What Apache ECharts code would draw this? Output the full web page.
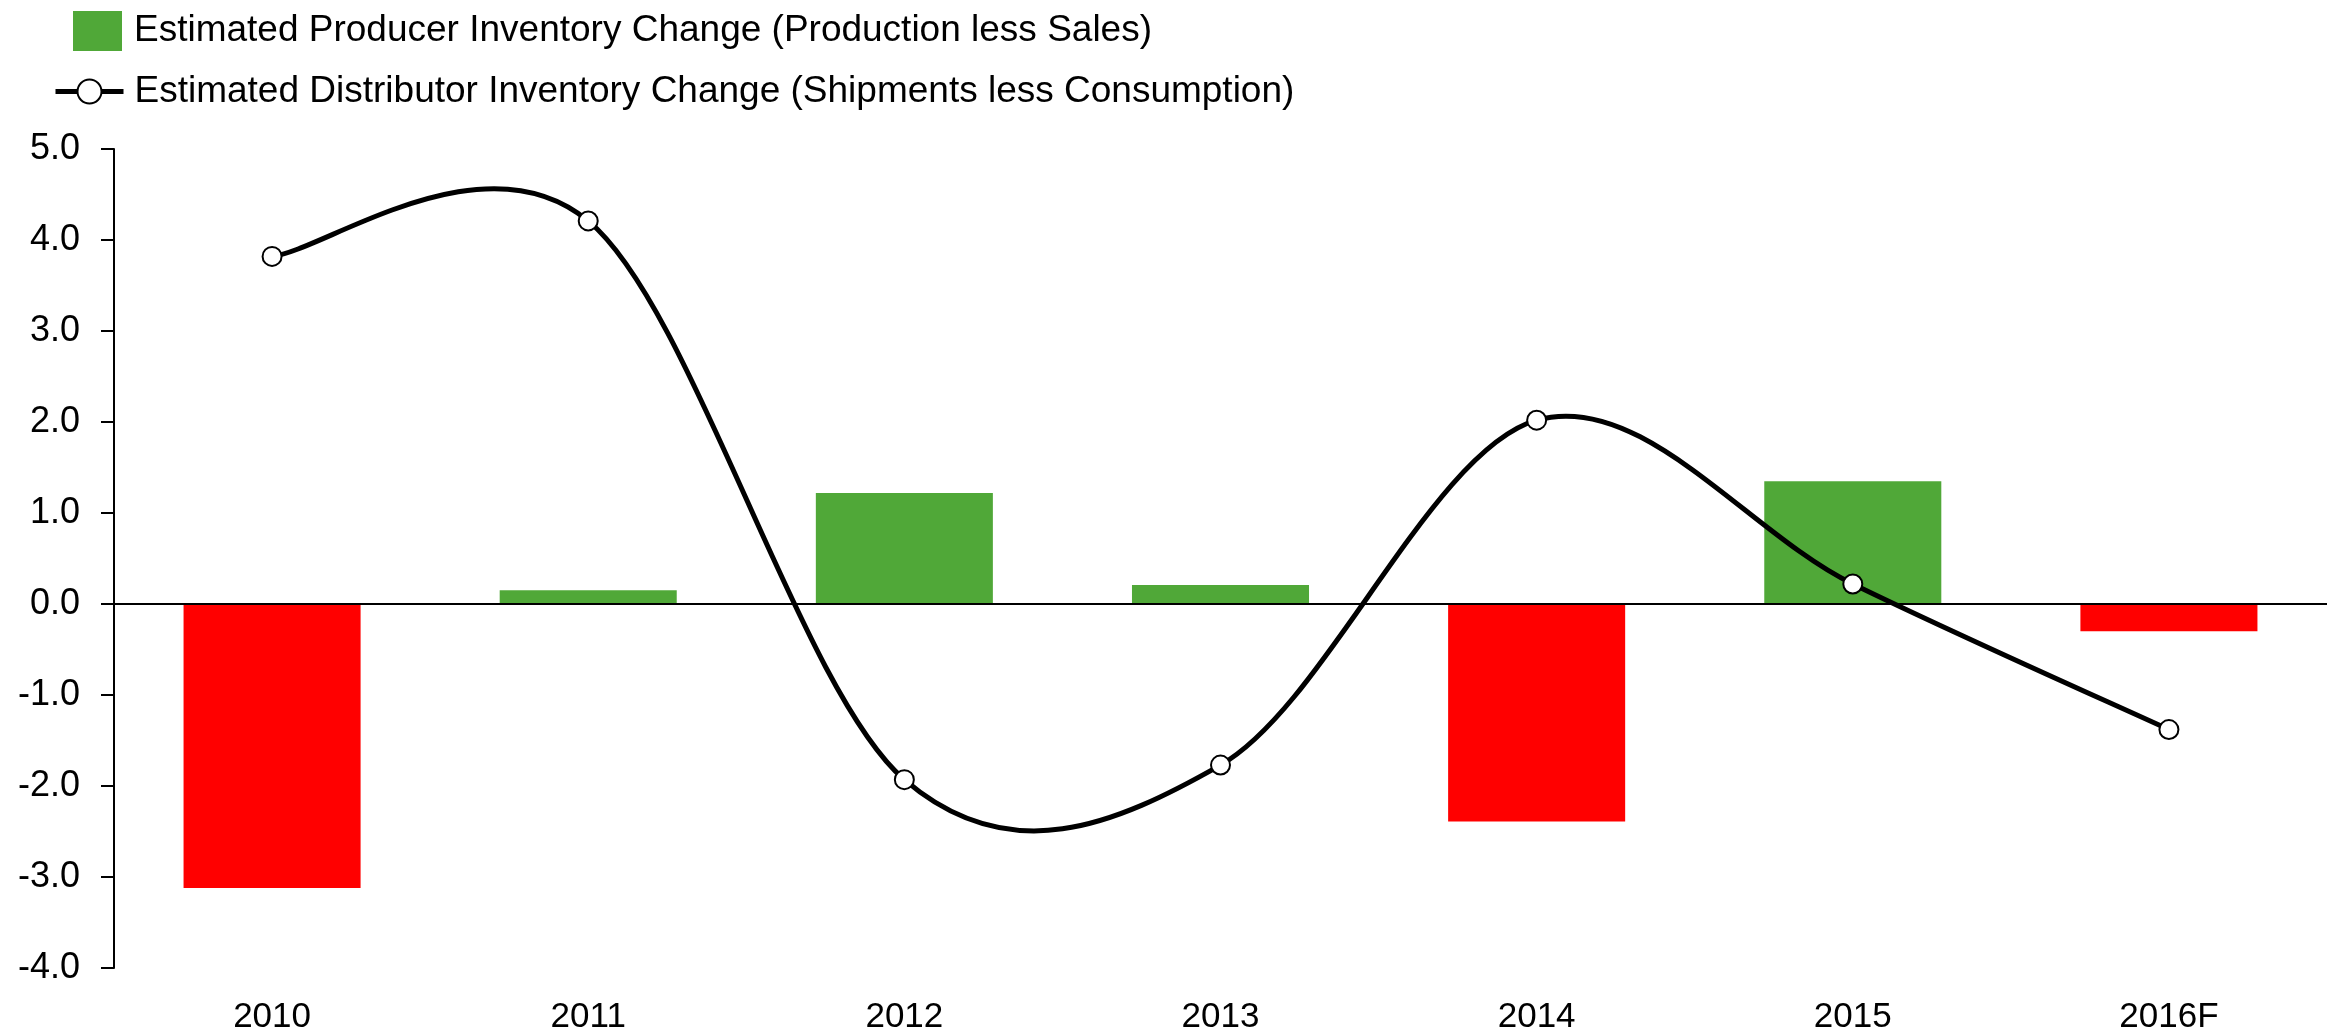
<!DOCTYPE html>
<html>
<head>
<meta charset="utf-8">
<script src="https://cdn.jsdelivr.net/npm/echarts@6/dist/echarts.min.js"></script>
<style>
  html, body { margin: 0; padding: 0; background: #fff; }
  #main { width: 2336px; height: 1035px; }
</style>
</head>
<body>
<div id="main"></div>
<script>
  // values
  let years = ['2010', '2011', '2012', '2013', '2014', '2015', '2016F']
  let producerChange = [-3.12, 0.15, 1.22, 0.21, -2.39, 1.35, -0.30]
  let distributorChange = [3.82, 4.21, -1.93, -1.77, 2.02, 0.22, -1.38]
  let barName = 'Estimated Producer Inventory Change (Production less Sales)'
  let lineName = 'Estimated Distributor Inventory Change (Shipments less Consumption)'

  let green = '#50A838'
  let red = '#FF0000'
  let font = 'Liberation Sans, Arial, sans-serif'

  // excel-like smoothed line: one bezier piece per segment, control points from neighbours
  function smoothSegment (params, api) {
    let i = params.dataIndex
    let n = distributorChange.length
    if (i >= n - 1) return null
    let pt = function (k) {
      k = Math.max(0, Math.min(n - 1, k))
      return api.coord([k, distributorChange[k]])
    }
    let p0 = pt(i - 1)
    let p1 = pt(i)
    let p2 = pt(i + 1)
    let p3 = pt(i + 2)
    return {
      type: 'bezierCurve',
      shape: {
        x1: p1[0], y1: p1[1],
        x2: p2[0], y2: p2[1],
        cpx1: p1[0] + (p2[0] - p0[0]) / 6, cpy1: p1[1] + (p2[1] - p0[1]) / 6,
        cpx2: p2[0] - (p3[0] - p1[0]) / 6, cpy2: p2[1] - (p3[1] - p1[1]) / 6
      },
      style: { stroke: '#000', lineWidth: 5, fill: null, lineCap: 'round', lineJoin: 'round' }
    }
  }

  let chart = echarts.init(document.getElementById('main'))
  chart.setOption({
    animation: false,
    textStyle: { fontFamily: font, color: '#000' },
    legend: [
      {
        data: [barName],
        left: 68,
        top: 6,
        itemWidth: 49,
        itemHeight: 40,
        icon: 'rect',
        textStyle: { fontSize: 37, color: '#000', fontFamily: font, padding: [0, 0, 0, 7] }
      },
      {
        data: [lineName],
        left: 48,
        top: 68,
        itemWidth: 68,
        itemHeight: 30,
        lineStyle: { color: '#000', width: 5, opacity: 1 },
        textStyle: { fontSize: 37, color: '#000', fontFamily: font, padding: [0, 0, 0, 6] }
      }
    ],
    grid: {
      left: 114,
      right: 9,
      top: 149,
      bottom: 65,
      containLabel: false
    },
    xAxis: {
      type: 'category',
      data: years,
      axisLine: { show: false, onZero: false },
      axisTick: { show: false },
      axisLabel: { fontSize: 35, color: '#000', margin: 32, fontFamily: font }
    },
    yAxis: {
      type: 'value',
      min: -4,
      max: 5,
      interval: 1,
      splitLine: { show: false },
      axisLine: { show: true, lineStyle: { color: '#000', width: 2 } },
      axisTick: { show: true, length: 13, lineStyle: { color: '#000', width: 2 } },
      axisLabel: {
        fontSize: 36,
        color: '#000',
        margin: 34,
        fontFamily: font,
        formatter: function (v) { return v.toFixed(1) }
      }
    },
    series: [
      {
        name: barName,
        type: 'bar',
        barCategoryGap: '44%',
        itemStyle: { color: green },
        data: producerChange.map(function (v) {
          return { value: v, itemStyle: { color: v < 0 ? red : green } }
        }),
        markLine: {
          silent: true,
          symbol: 'none',
          label: { show: false },
          lineStyle: { color: '#000', width: 2, type: 'solid' },
          data: [{ yAxis: 0 }]
        }
      },
      {
        name: 'curve',
        type: 'custom',
        z: 4,
        silent: true,
        renderItem: smoothSegment,
        data: distributorChange.map(function (v, i) { return [i, v] })
      },
      {
        name: lineName,
        type: 'line',
        z: 5,
        symbol: 'circle',
        symbolSize: 19,
        lineStyle: { color: '#000', width: 5, opacity: 0 },
        itemStyle: { color: '#fff', borderColor: '#000', borderWidth: 2 },
        data: distributorChange
      }
    ]
  })
</script>
</body>
</html>
